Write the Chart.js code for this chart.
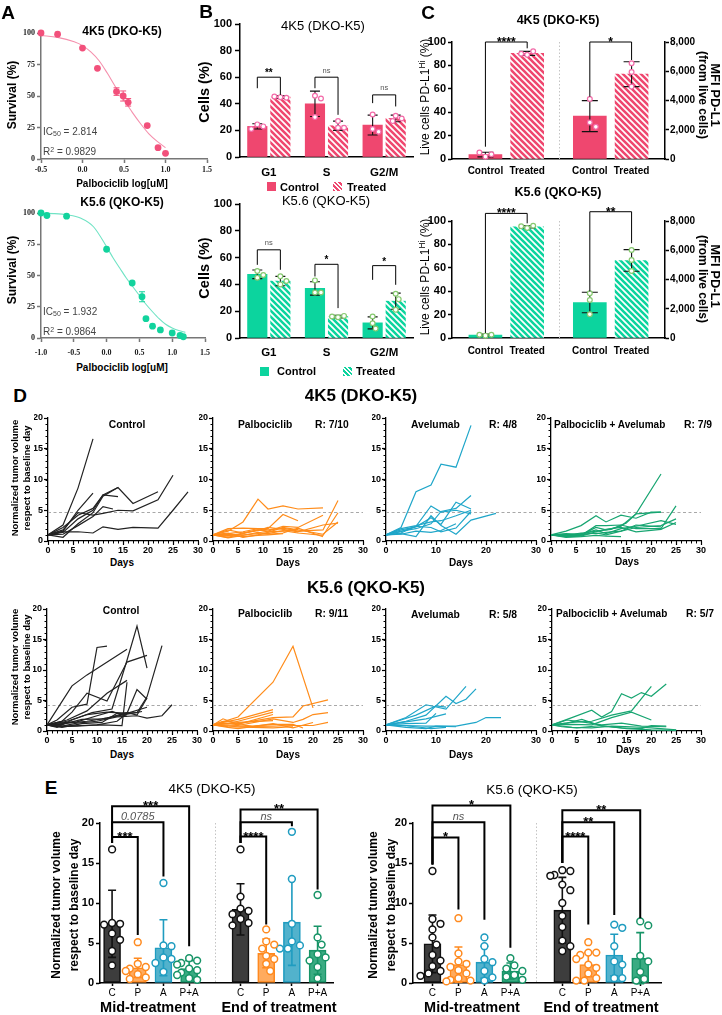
<!DOCTYPE html>
<html>
<head>
<meta charset="utf-8">
<title>Palbociclib / Avelumab figure</title>
<script src="https://cdn.jsdelivr.net/npm/chart.js@4.4.1/dist/chart.umd.min.js"></script>
<style>
  body { margin: 0; width: 722px; height: 1015px; position: relative; overflow: hidden; background: #fff; }
  canvas { position: absolute; }
  .t { position: absolute; white-space: nowrap; line-height: 1; color: #000; }
  .t sub { font-size: 70%; vertical-align: -0.2em; line-height: 0; }
  .t sup { font-size: 70%; vertical-align: 0.5em; line-height: 0; }
</style>
</head>
<body>
<script>
// ---------- A: dose response ----------
const a1LogDose = [-0.5, -0.3, 0.0, 0.18, 0.41, 0.49, 0.55, 0.78, 0.91, 1.0];
const a1Survival = [100, 99, 88, 72, 53.5, 50, 45, 26.5, 9, 4.5];
const a1Sd = [0, 0, 0, 0, 3, 4, 3, 0, 0, 0];
const a1FitDose = [-0.5, -0.3, -0.1, 0, 0.1, 0.2, 0.3, 0.4, 0.5, 0.6, 0.7, 0.8, 0.9, 1.0];
const a1FitSurvival = [98, 96.5, 93, 90, 85, 78, 68, 57, 47, 37, 28, 20, 14, 9];

const a2LogDose = [-1.0, -0.91, -0.61, 0.0, 0.39, 0.54, 0.60, 0.70, 0.82, 1.0, 1.12, 1.17];
const a2Survival = [100, 98, 97.5, 71, 44, 33, 15.5, 9.5, 6.5, 4, 2, 1];
const a2Sd = [0, 0, 0, 0, 0, 4, 0, 0, 0, 0, 0, 0];
const a2FitDose = [-1.0, -0.8, -0.6, -0.4, -0.2, 0, 0.1, 0.2, 0.3, 0.4, 0.5, 0.6, 0.7, 0.8, 0.9, 1.0, 1.1, 1.2];
const a2FitSurvival = [99.8, 99.5, 98.5, 96, 89, 73, 64, 56, 48, 41, 34, 27, 21, 15.5, 11, 8, 6, 4.5];

// ---------- B: cell cycle ----------
const phases = ['G1', 'S', 'G2/M'];
const b1CtrlMean = [23, 40, 24], b1CtrlSd = [2, 9.5, 7.5];
const b1TreatMean = [45, 23.5, 29], b1TreatSd = [1, 3.5, 2.5];
const b1CtrlPts = [[24.5, 23, 21], [46, 44, 30], [32, 21, 19]];
const b1TreatPts = [[45, 44.5, 45.5], [27, 22, 22], [31, 29, 27]];

const b2CtrlMean = [47.5, 37, 11.3], b2CtrlSd = [3.2, 5, 4.5];
const b2TreatMean = [42.5, 16, 27.5], b2TreatSd = [3.5, 1, 6];
const b2CtrlPts = [[50, 47, 45], [43, 34, 34], [16, 11, 7]];
const b2TreatPts = [[46, 42.5, 40], [15.5, 16.5, 16], [33, 29, 21]];

// ---------- C: PD-L1 ----------
const pdl1Groups = ['Control', 'Treated'];
const c1PctMean = [3.8, 90.3], c1PctSd = [2, 1.7];
const c1PctPts = [[2, 4, 5.5], [89, 92, 90]];
const c1MfiMean = [2930, 5800], c1MfiSd = [1060, 850];
const c1MfiPts = [[4100, 2500, 2200], [6550, 5950, 4950]];

const c2PctMean = [2.5, 95], c2PctSd = [0.8, 1];
const c2PctPts = [[2, 2.8, 2.8], [94, 96, 95.5]];
const c2MfiMean = [2425, 5300], c2MfiSd = [700, 740];
const c2MfiPts = [[3060, 2600, 1620], [6020, 5330, 4580]];

// ---------- D: tumour growth curves, [day, normalized volume] ----------
const dThreshold = [4.7, 4.3];
const d4k5Control = [
  [[0,1],[3,2.6],[6,8.6],[9,16.6]],
  [[0,1],[3,1.6],[6,5],[9,7.8]],
  [[0,1],[3,2.2],[6,4.2],[9,5.3],[11,7.5],[14,8.7],[17,6.1],[22,8.0]],
  [[0,1],[3,0.6],[6,2.8],[9,4.6],[11,7.3],[14,8.7]],
  [[0,1],[3,1.4],[6,3.6],[9,5.0],[11,7.5],[14,7.2]],
  [[0,1],[3,1.8],[6,4.6],[9,4.2],[11,4.5],[14,5.0],[17,4.9],[22,6.7],[25,10.7]],
  [[0,1],[3,1.5],[6,1.5],[9,1.3],[11,2.3],[14,1.9],[17,2.2],[22,2.1],[25,5.0],[28,8.0]],
  [[0,1],[3,1.1],[6,2.5],[9,4.0],[11,5.6],[13,5.2]]
];
const d4k5Palbo = [
  [[0,1],[3,1.6],[6,3.1],[9,6.8],[11,5.2],[14,5.7],[17,5.2],[22,5.4]],
  [[0,1],[3,1.2],[6,1.5],[9,2.0],[11,2.0],[14,4.3],[17,3.3]],
  [[0,1],[3,0.6],[6,1.2],[9,1.8],[11,1.6],[14,2.4],[17,2.2],[22,4.2]],
  [[0,1],[3,2.0],[6,2.1],[9,2.0],[11,1.8],[14,2.1],[17,1.6],[22,1.8],[25,6.6]],
  [[0,1],[3,0.5],[6,0.9],[9,1.4],[11,1.2],[14,1.7],[17,1.3],[22,0.9],[25,4.6]],
  [[0,1],[3,1.3],[6,0.6],[9,1.0],[11,1.4],[14,2.2],[17,1.8],[22,1.1],[25,3.1]],
  [[0,1],[3,0.8],[6,1.3],[9,1.7],[11,2.2],[14,1.9],[17,1.5],[22,2.6],[25,2.9]],
  [[0,1],[3,1.1],[6,1.0],[9,1.2],[11,1.1],[14,1.3],[17,2.1],[22,0.7]],
  [[0,1],[3,1.8],[6,1.3],[9,1.8],[11,1.5],[14,1.6],[17,1.9]],
  [[0,1],[3,0.9],[6,0.7],[9,0.9],[11,1.0],[14,1.2]]
];
const d4k5Avel = [
  [[0,1],[3,2.2],[6,8.0],[9,9.1],[11,12.5],[14,12.0],[17,18.8]],
  [[0,1],[3,1.5],[6,2.4],[9,5.7],[11,4.7],[14,5.0],[17,4.4]],
  [[0,1],[3,1.8],[6,2.3],[9,3.8],[11,2.7],[14,6.3],[17,5.2]],
  [[0,1],[3,1.2],[6,0.7],[9,4.1],[11,2.5],[14,1.1],[17,3.4],[22,4.5]],
  [[0,1],[3,1.6],[6,2.0],[9,2.8],[11,4.8],[14,5.3],[17,7.4]],
  [[0,1],[3,1.3],[6,2.4],[9,2.2],[11,1.5],[14,2.1],[17,4.8]],
  [[0,1],[3,2.0],[6,2.5],[9,3.1],[11,3.3],[14,4.1],[17,5.0]],
  [[0,1],[3,1.1],[6,1.6],[9,1.4],[11,1.7],[14,2.8]]
];
const d4k5Combo = [
  [[0,1],[3,1.6],[6,2.5],[9,4.1],[11,3.1],[14,4.2],[17,3.7],[20,4.7],[22,4.7]],
  [[0,1],[3,0.9],[6,1.0],[9,2.2],[11,1.8],[14,2.4],[17,4.4],[22,10.9]],
  [[0,1],[3,0.8],[6,0.9],[9,2.5],[11,2.5],[14,2.6],[17,2.0],[22,2.0],[25,5.7]],
  [[0,1],[3,1.2],[6,1.1],[9,1.8],[11,1.2],[14,2.0],[17,2.4],[22,3.3],[25,2.7]],
  [[0,1],[3,0.6],[6,0.7],[9,0.9],[11,0.8],[14,0.7]],
  [[0,1],[3,0.9],[6,1.3],[9,1.2],[11,1.4],[14,1.6],[17,2.2],[22,2.5],[25,3.6]],
  [[0,1],[3,0.7],[6,0.8],[9,1.5],[11,1.9],[14,2.2],[17,1.5],[22,1.9],[25,3.0]],
  [[0,1],[3,1.1],[6,1.0],[9,1.3],[11,1.0],[14,1.6],[17,2.6],[22,2.3]],
  [[0,1],[3,0.8],[6,1.2],[9,1.6],[12,1.9],[15,2.9],[17,4.4],[22,4.7]]
];
const dk56Control = [
  [[0,1],[5,7.4],[8,9.2],[16,13.4]],
  [[0,1],[2,1.8],[5,3.9],[8,4.4],[10,13.7],[12,13.9]],
  [[0,1],[3,1.6],[5,3.1],[8,6.2],[12,4.9],[16,11.3],[20,12.4]],
  [[0,1],[2,0.6],[5,1.8],[9,3.0],[13,3.6],[16,11.6],[18,17.2],[20,10.3]],
  [[0,1],[4,1.8],[8,3.3],[12,6.2],[16,8.3]],
  [[0,1],[3,0.8],[7,0.9],[11,1.0],[15,0.9],[16,8.0]],
  [[0,1],[2,0.7],[6,0.8],[10,1.0],[14,1.6],[16,2.9],[18,6.8],[20,5.2]],
  [[0,1],[3,0.8],[6,1.3],[10,1.6],[14,2.3],[18,2.5],[20,2.1],[23,2.5],[25,4.3]],
  [[0,1],[4,1.3],[8,1.6],[12,2.1],[16,3.0],[18,2.6],[20,5.4]],
  [[0,1],[3,0.6],[7,1.2],[11,1.4],[14,2.9],[18,3.0],[20,5.6],[23,14.0]],
  [[0,1],[4,1.6],[8,2.7],[12,3.1],[16,2.9],[20,3.9]],
  [[0,1],[3,1.1],[7,1.9],[11,2.0],[15,2.6],[19,3.2]],
  [[0,1],[2,1.3],[6,1.5],[10,2.5],[13,3.2],[16,2.4]]
];
const dk56Palbo = [
  [[0,1],[5,2.3],[12,8.0],[16,13.9],[20,3.8]],
  [[0,1],[2,1.4],[5,1.9],[12,3.5]],
  [[0,1],[3,1.2],[5,1.6],[12,3.1]],
  [[0,1],[2,2.0],[5,1.1],[12,2.7]],
  [[0,1],[2,1.3],[5,1.2],[12,2.2],[16,2.3],[18,4.1],[23,5.1]],
  [[0,1],[5,0.9],[12,2.0],[16,1.4],[18,1.9],[20,2.7],[23,3.0]],
  [[0,1],[3,0.6],[5,0.4],[12,1.2],[16,0.5],[20,1.4]],
  [[0,1],[5,0.7],[12,0.8],[16,0.9],[20,0.9],[23,1.4]],
  [[0,1],[3,1.2],[8,0.8],[12,1.1],[16,1.1],[18,0.5]],
  [[0,1],[3,0.7],[8,0.6],[12,0.5],[16,0.7]],
  [[0,1],[2,1.6],[5,1.4],[12,1.7]]
];
const dk56Avel = [
  [[0,1],[4,2.2],[8,4.3],[12,3.6],[16,7.3]],
  [[0,1],[4,1.6],[8,2.6],[12,5.7],[14,4.5],[16,5.2],[18,6.9]],
  [[0,1],[3,1.8],[6,2.6],[10,4.1],[12,3.9]],
  [[0,1],[4,1.5],[8,2.0],[12,2.8]],
  [[0,1],[4,1.2],[8,1.3],[10,2.9]],
  [[0,1],[4,0.9],[8,0.8],[12,0.8],[14,0.8],[18,1.4],[20,2.2],[23,2.2]],
  [[0,1],[4,0.6],[8,0.4],[10,0.8],[14,0.7]],
  [[0,1],[3,0.9],[6,0.7],[9,0.4],[12,0.6]]
];
const dk56Combo = [
  [[0,1],[4,2.2],[8,3.4],[10,2.3],[12,3.2],[14,6.1],[16,5.4],[18,6.3],[20,5.7],[23,7.7]],
  [[0,1],[4,1.4],[8,1.6],[12,2.6],[16,3.3],[20,7.3]],
  [[0,1],[4,1.1],[8,1.0],[12,2.2],[16,3.1],[20,1.8]],
  [[0,1],[3,1.8],[6,1.5],[10,1.0],[14,1.3],[18,0.8],[23,0.7]],
  [[0,1],[4,0.6],[8,0.5],[12,0.8],[16,0.7],[20,0.5],[25,0.2]],
  [[0,1],[3,1.3],[6,1.9],[10,0.8],[14,0.5],[18,0.4],[20,0.9],[23,0.8]],
  [[0,1],[2,0.7],[5,0.5],[10,0.9],[15,0.4],[20,0.2],[25,0.1]]
];

// ---------- E: normalized volume at mid / end of treatment ----------
const eGroups = ['C', 'P', 'A', 'P+A'];
const e1MidMean = [7.4, 1.9, 4.4, 1.8], e1MidSd = [4.2, 1.2, 3.5, 1.0];
const e1EndMean = [9.2, 3.7, 7.6, 4.1], e1EndSd = [3.2, 1.8, 5.4, 3.0];
const e1MidPts = [
  [16.7, 7.5, 7.4, 7.3, 6.2, 5.4, 4.0, 2.2],
  [5.1, 2.4, 2.0, 1.8, 1.5, 1.1, 0.7, 0.5],
  [12.5, 4.7, 4.6, 3.2, 3.0, 2.5, 1.4],
  [3.1, 2.8, 2.5, 2.3, 1.8, 1.6, 1.3, 1.0, 0.6, 0.4]
];
const e1EndPts = [
  [16.7, 10.8, 9.3, 9.0, 8.6, 8.0, 7.5, 7.2],
  [6.7, 5.2, 4.8, 4.3, 3.4, 3.0, 2.4, 1.5],
  [18.9, 13.0, 7.4, 5.2, 4.7, 4.3, 4.3],
  [11.0, 5.7, 4.8, 3.6, 3.2, 2.8, 2.0, 0.6]
];
const e2MidMean = [4.9, 2.3, 2.6, 1.5], e2MidSd = [3.6, 2.2, 2.0, 1.0];
const e2EndMean = [9.1, 2.3, 3.5, 3.1], e2EndSd = [4.1, 1.5, 2.6, 3.2];
const e2MidPts = [
  [14.0, 8.0, 7.4, 6.7, 5.7, 4.8, 3.5, 2.8, 2.1, 1.5, 1.2, 0.9],
  [8.1, 3.7, 2.7, 2.4, 2.0, 1.6, 1.2, 0.6, 0.4, 0.3, 0.2],
  [5.7, 4.6, 3.0, 2.6, 1.5, 0.7, 0.3],
  [3.1, 2.2, 1.8, 1.5, 1.0, 0.8, 0.4]
];
const e2EndPts = [
  [14.1, 14.0, 13.5, 13.4, 12.3, 11.6, 10.0, 8.4, 7.0, 5.3, 4.6, 4.0],
  [5.1, 3.8, 3.8, 3.5, 3.0, 2.3, 1.9, 1.2, 0.6, 0.3, 0.3],
  [7.3, 6.9, 4.6, 2.7, 2.3, 0.6, 0.6],
  [7.7, 7.2, 3.4, 2.7, 1.4, 0.5, 0.3]
];

// ---------- styling ----------
const SANS = '"Liberation Sans", Arial, sans-serif';
const SERIF = '"Liberation Serif", "DejaVu Serif", serif';
const PINK = '#ef476f', PINK_PT = '#f36aa8';
const MINT = '#0cd49e', MINT_PT = '#86c96f';
const BLACK = '#222222', ORANGE = '#ff8c1a', BLUE = '#1fa6c9', GREEN = '#17a571';
const eFill = ['#3d3d3d', '#ffab5e', '#52b2cc', '#3aab82'];
const eLine = ['#111111', '#ff8a1f', '#1f9cc0', '#179467'];

Chart.defaults.font.family = SANS;
Chart.defaults.color = '#000';

const deco = {
  id: 'deco',
  beforeDatasetsDraw(chart, args, o) {
    const ctx = chart.ctx, a = chart.chartArea;
    ctx.save();
    ctx.lineWidth = 1;
    (o.vlines || []).forEach(v => {
      const x = Math.round(chart.scales.x.getPixelForValue(v)) + 0.5;
      ctx.strokeStyle = '#c4c4c4';
      ctx.setLineDash([1.5, 2]);
      ctx.beginPath(); ctx.moveTo(x, a.top); ctx.lineTo(x, a.bottom); ctx.stroke();
    });
    if (o.hline !== undefined) {
      const y = Math.round(chart.scales.y.getPixelForValue(o.hline)) + 0.5;
      ctx.strokeStyle = '#a8a8a8';
      ctx.setLineDash([3, 2.5]);
      ctx.beginPath(); ctx.moveTo(a.left, y); ctx.lineTo(a.right, y); ctx.stroke();
    }
    ctx.restore();
  },
  afterDatasetDraw(chart, args) {
    const ds = chart.data.datasets[args.index];
    if (!ds.sd) return;
    const meta = args.meta, ctx = chart.ctx;
    const ys = chart.scales[meta.yAxisID];
    ctx.save();
    ctx.strokeStyle = ds.errColor || '#000';
    ctx.lineWidth = ds.errWidth || 1;
    ds.data.forEach((d, i) => {
      const s = ds.sd[i];
      if (!s) return;
      const x = meta.data[i].x, c = ds.cap || 4;
      const t = ys.getPixelForValue(d.y + s), b = ys.getPixelForValue(d.y - s);
      ctx.beginPath();
      ctx.moveTo(x, t); ctx.lineTo(x, b);
      ctx.moveTo(x - c, t); ctx.lineTo(x + c, t);
      ctx.moveTo(x - c, b); ctx.lineTo(x + c, b);
      ctx.stroke();
    });
    ctx.restore();
  },
  afterDraw(chart, args, o) {
    const ctx = chart.ctx, a = chart.chartArea;
    ctx.save();
    if (o.minor) {
      const xs = chart.scales.x, ys = chart.scales.y;
      ctx.strokeStyle = '#000'; ctx.lineWidth = 1;
      ctx.beginPath();
      for (let v = xs.min; v <= xs.max; v++) {
        const p = Math.round(xs.getPixelForValue(v)) + 0.5;
        ctx.moveTo(p, a.bottom); ctx.lineTo(p, a.bottom + 2.5);
      }
      for (let v = ys.min; v <= ys.max; v++) {
        const p = Math.round(ys.getPixelForValue(v)) + 0.5;
        ctx.moveTo(a.left, p); ctx.lineTo(a.left - 2.5, p);
      }
      ctx.stroke();
    }
    (o.brackets || []).forEach(b => {
      const xs = chart.scales.x, ys = chart.scales[b.axis || 'y'];
      const x1 = xs.getPixelForValue(b.x1), x2 = xs.getPixelForValue(b.x2), y = ys.getPixelForValue(b.y);
      ctx.strokeStyle = '#000';
      ctx.lineWidth = o.lw || 1;
      ctx.beginPath();
      ctx.moveTo(x1, ys.getPixelForValue(b.l1)); ctx.lineTo(x1, y);
      ctx.lineTo(x2, y); ctx.lineTo(x2, ys.getPixelForValue(b.l2));
      ctx.stroke();
      const star = b.text.indexOf('*') >= 0;
      ctx.font = star ? o.starFont : o.textFont;
      ctx.fillStyle = star ? '#000' : '#555';
      ctx.textAlign = 'center';
      ctx.textBaseline = 'alphabetic';
      ctx.fillText(b.text, (x1 + x2) / 2, y + (star ? o.so : o.to));
    });
    ctx.restore();
  }
};
Chart.register(deco);

function canvasAt(x0, x1, y0, y1, m) {
  const c = document.createElement('canvas');
  const w = x1 - x0 + m[0] + m[1], h = y1 - y0 + m[2] + m[3];
  c.width = w; c.height = h;
  c.style.left = (x0 - m[0]) + 'px';
  c.style.top = (y0 - m[2]) + 'px';
  c.style.width = w + 'px';
  c.style.height = h + 'px';
  document.body.appendChild(c);
  return c;
}

function scale(o) {
  const s = {
    type: 'linear', min: o.min, max: o.max, offset: false,
    grid: { offset: false, drawOnChartArea: false, drawTicks: !!o.tick, tickLength: o.tick || 0, color: o.color || '#000', tickWidth: o.lw || 1.2 },
    border: { color: o.color || '#000', width: o.lw || 1.3 },
    ticks: {
      autoSkip: false, maxRotation: 0, padding: o.pad || 0, color: o.tc || '#000',
      font: { family: o.family || SANS, size: o.size || 10, weight: o.weight || 'bold' }
    },
    afterFit: o.fit
  };
  if (o.step) s.ticks.stepSize = o.step;
  if (o.pos) s.position = o.pos;
  if (o.at) s.afterBuildTicks = sc => { sc.ticks = o.at.map(v => ({ value: v })); };
  if (o.labels) s.ticks.callback = (v, i) => o.labels[i];
  else if (o.fmt) s.ticks.callback = o.fmt;
  return s;
}

function opts(m, scales, plug) {
  return {
    responsive: false, animation: false, events: [],
    layout: { padding: { left: 0, top: m[2], right: scales.y2 ? 0 : m[1], bottom: 0 } },
    scales,
    plugins: { legend: { display: false }, tooltip: { enabled: false }, deco: plug || {} }
  };
}

function hatch(color) {
  const c = document.createElement('canvas');
  c.width = c.height = 6;
  const g = c.getContext('2d');
  g.fillStyle = '#fff'; g.fillRect(0, 0, 6, 6);
  g.strokeStyle = color; g.lineWidth = 2.6;
  g.beginPath();
  [-6, 0, 6].forEach(k => { g.moveTo(-1, -1 + k); g.lineTo(7, 7 + k); });
  g.stroke();
  return g.createPattern(c, 'repeat');
}

// spreads equal-ish values sideways so dots do not overlap (px offsets)
function swarm(vals, pxPerY, d) {
  const placed = [];
  return vals.map(v => {
    const py = v * pxPerY;
    let off = 0;
    for (const s of [0, 1, -1, 2, -2, 3, -3]) {
      off = s * d * 0.5;
      if (placed.every(p => Math.hypot(p[0] - off, p[1] - py) >= d)) break;
    }
    placed.push([off, py]);
    return off;
  });
}

function T(html, x, y, font, anchor, rot, color) {
  const d = document.createElement('div');
  d.className = 't';
  d.innerHTML = html;
  d.style.font = font;
  d.style.lineHeight = '1';
  d.style.color = color || '#000';
  d.style.left = x + 'px';
  d.style.top = y + 'px';
  const tx = anchor === 'l' ? '0' : anchor === 'r' ? '-100%' : '-50%';
  d.style.transform = 'translate(' + tx + ',-50%)' + (rot ? ' rotate(' + rot + 'deg)' : '');
  document.body.appendChild(d);
}

function swatch(x, y, bg) {
  const d = document.createElement('div');
  d.style.cssText = 'position:absolute;left:' + x + 'px;top:' + y + 'px;width:9px;height:9px;background:' + bg;
  document.body.appendChild(d);
}

// ---------- A ----------
function aChart(x1, y0, y1, xmin, dose, surv, sd, fitX, fitY, col, fitCol, pad) {
  const m = [41, 12, 14, 22];
  const c = canvasAt(41, x1, y0, y1, m);
  new Chart(c, {
    type: 'scatter',
    data: { datasets: [
      { data: fitX.map((x, i) => ({ x, y: fitY[i] })), showLine: true, borderColor: fitCol, borderWidth: 1.1,
        pointRadius: 0, tension: 0.4, cubicInterpolationMode: 'monotone', order: 2, clip: false },
      { data: dose.map((x, i) => ({ x, y: surv[i] })), pointRadius: 3.4, pointBorderWidth: 0,
        pointBackgroundColor: col, sd, errColor: col, errWidth: 1, cap: 3, order: 1, clip: false }
    ] },
    options: opts(m, {
      x: scale({ min: xmin, max: 1.5, step: 0.5, tick: 4, pad, size: 8, family: SERIF, color: '#777', lw: 1.5, tc: '#222',
                 fmt: v => v.toFixed(1), fit: s => { s.height = m[3]; } }),
      y: scale({ min: 0, max: 100, step: 25, tick: 4, pad: 2, size: 8, family: SERIF, color: '#777', lw: 1.5, tc: '#222',
                 fit: s => { s.width = m[0]; } })
    })
  });
}
aChart(207, 33, 159, -0.5, a1LogDose, a1Survival, a1Sd, a1FitDose, a1FitSurvival, '#f2507b', '#f590ad', 2);
aChart(205, 213, 338, -1.0, a2LogDose, a2Survival, a2Sd, a2FitDose, a2FitSurvival, '#12d39d', '#6fe3c4', 6);

// ---------- B ----------
function bChart(y0, y1, ctrl, ctrlSd, treat, treatSd, ctrlPts, treatPts, col, ptCol, brackets, xpad) {
  const m = [40, 6, 12, 24];
  const c = canvasAt(240, 413, y0, y1, m);
  const pxY = (y1 - y0) / 100, pxX = 173 / 3;
  const pts = (arr, shift) => arr.flatMap((vals, i) => {
    const o = swarm(vals, pxY, 6);
    return vals.map((v, k) => ({ x: i + shift + o[k] / pxX, y: v }));
  });
  const bar = (vals, sd, bg, shift) => ({
    type: 'bar', data: vals.map((v, i) => ({ x: i + shift, y: v })), sd, backgroundColor: bg, borderWidth: 0,
    grouped: false, barThickness: 19.5, maxBarThickness: 19.5, order: 3, errColor: '#111', errWidth: 1.1, cap: 5, clip: false
  });
  const dot = data => ({ type: 'scatter', data, pointRadius: 2.4, pointBorderWidth: 1.2,
    pointBackgroundColor: '#fff', pointBorderColor: ptCol, order: 1, clip: false });
  new Chart(c, {
    type: 'bar',
    data: { datasets: [bar(ctrl, ctrlSd, col, 0.3), bar(treat, treatSd, hatch(col), 0.7), dot(pts(ctrlPts, 0.3)), dot(pts(treatPts, 0.7))] },
    options: opts(m, {
      x: scale({ min: 0, max: 3, at: [0.5, 1.5, 2.5], labels: phases, tick: 0, pad: xpad, size: 11.5, lw: 1.5,
                 fit: s => { s.height = m[3]; } }),
      y: scale({ min: 0, max: 100, step: 20, tick: 5, pad: 3, size: 11, lw: 1.5, fit: s => { s.width = m[0]; } })
    }, { brackets, lw: 1, starFont: 'bold 10px ' + SANS, textFont: '7.5px ' + SANS, so: -1, to: -4.5 })
  });
}
bChart(24, 157, b1CtrlMean, b1CtrlSd, b1TreatMean, b1TreatSd, b1CtrlPts, b1TreatPts, PINK, PINK_PT, [
  { x1: 0.3, x2: 0.7, y: 60, l1: 51.7, l2: 46.7, text: '**' },
  { x1: 1.3, x2: 1.7, y: 60, l1: 51.7, l2: 31.7, text: 'ns' },
  { x1: 2.3, x2: 2.7, y: 46.7, l1: 40.5, l2: 38, text: 'ns' }
], 9);
bChart(204, 338, b2CtrlMean, b2CtrlSd, b2TreatMean, b2TreatSd, b2CtrlPts, b2TreatPts, MINT, MINT_PT, [
  { x1: 0.3, x2: 0.7, y: 65.8, l1: 54.6, l2: 50.9, text: 'ns' },
  { x1: 1.3, x2: 1.7, y: 55, l1: 45.9, l2: 22.3, text: '*' },
  { x1: 2.3, x2: 2.7, y: 54, l1: 43.4, l2: 39.7, text: '*' }
], 8);

// ---------- C ----------
function cChart(y0, y1, top, xpad, pct, pctSd, pctPts, mfi, mfiSd, mfiPts, col, ptCol, brackets) {
  const m = [37, 57, top, 20];
  const c = canvasAt(452, 665, y0, y1, m);
  const pxX = 213 / 5.1, pxL = (y1 - y0) / 100, pxR = (y1 - y0) / 8000;
  const fill = [col, hatch(col)];
  const pts = (arr, xs, pxY) => arr.flatMap((vals, i) => {
    const o = swarm(vals, pxY, 6);
    return vals.map((v, k) => ({ x: xs[i] + o[k] / pxX, y: v }));
  });
  const bar = (vals, sd, xs, axis) => ({
    type: 'bar', data: vals.map((v, i) => ({ x: xs[i], y: v })), sd, yAxisID: axis, backgroundColor: fill, borderWidth: 0,
    grouped: false, barThickness: 33, maxBarThickness: 33, order: 3, errColor: '#111', errWidth: 1.1, cap: 8, clip: false
  });
  const dot = (data, axis) => ({ type: 'scatter', data, yAxisID: axis, pointRadius: 2.4, pointBorderWidth: 1.2,
    pointBackgroundColor: '#fff', pointBorderColor: ptCol, order: 1, clip: false });
  new Chart(c, {
    type: 'bar',
    data: { datasets: [
      bar(pct, pctSd, [1, 2], 'y'), bar(mfi, mfiSd, [3.5, 4.5], 'y2'),
      dot(pts(pctPts, [1, 2], pxL), 'y'), dot(pts(mfiPts, [3.5, 4.5], pxR), 'y2')
    ] },
    options: opts(m, {
      x: scale({ min: 0.2, max: 5.3, at: [1, 2, 3.5, 4.5], labels: pdl1Groups.concat(pdl1Groups), tick: 0, pad: xpad, size: 10,
                 lw: 1.5, fit: s => { s.height = m[3]; } }),
      y: scale({ min: 0, max: 100, step: 20, tick: 4, pad: 2, size: 11, lw: 1.5, fit: s => { s.width = m[0]; } }),
      y2: scale({ min: 0, max: 8000, step: 2000, pos: 'right', tick: 4, pad: 1, size: 10, lw: 1.5, fit: s => { s.width = m[1]; } })
    }, { vlines: [2.75], brackets, lw: 1, starFont: 'bold 12px ' + SANS, textFont: '8px ' + SANS, so: 4, to: -3 })
  });
}
cChart(42, 159, 14, 6, c1PctMean, c1PctSd, c1PctPts, c1MfiMean, c1MfiSd, c1MfiPts, PINK, PINK_PT, [
  { x1: 1, x2: 2, y: 100, l1: 10.5, l2: 94.6, text: '****' },
  { x1: 3.5, x2: 4.5, y: 8000, l1: 4260, l2: 6770, text: '*', axis: 'y2' }
]);
cChart(221, 338, 22, 7, c2PctMean, c2PctSd, c2PctPts, c2MfiMean, c2MfiSd, c2MfiPts, MINT, MINT_PT, [
  { x1: 1, x2: 2, y: 106.5, l1: 4.3, l2: 98, text: '****' },
  { x1: 3.5, x2: 4.5, y: 8634, l1: 3178, l2: 6479, text: '**', axis: 'y2' }
]);

// ---------- D ----------
function dChart(x0, x1, y0, y1, series, col, step, thr) {
  const m = [14, 8, 8, 14];
  const c = canvasAt(x0, x1, y0, y1, m);
  new Chart(c, {
    type: 'scatter',
    data: { datasets: series.map(s => ({
      data: s.map(p => ({ x: p[0], y: p[1] })), showLine: true, borderColor: col, borderWidth: 1.2,
      pointRadius: 0, clip: false
    })) },
    options: opts(m, {
      x: scale({ min: 0, max: 30, step, tick: 4, pad: 0, size: 9, fit: s => { s.height = m[3]; } }),
      y: scale({ min: 0, max: 20, step: 5, tick: 4, pad: 1, size: 9, fit: s => { s.width = m[0]; } })
    }, { hline: thr, minor: { len: 2.5 } })
  });
}
dChart(48, 198, 418, 541, d4k5Control, BLACK, 5, dThreshold[0]);
dChart(213, 363, 418, 541, d4k5Palbo, ORANGE, 5, dThreshold[0]);
dChart(386, 536, 418, 541, d4k5Avel, BLUE, 10, dThreshold[0]);
dChart(551, 701, 418, 541, d4k5Combo, GREEN, 5, dThreshold[0]);
dChart(47, 197, 609, 731, dk56Control, BLACK, 5, dThreshold[1]);
dChart(213, 363, 609, 731, dk56Palbo, ORANGE, 5, dThreshold[1]);
dChart(386, 536, 609, 731, dk56Avel, BLUE, 10, dThreshold[1]);
dChart(552, 701, 609, 731, dk56Combo, GREEN, 5, dThreshold[1]);

// ---------- E ----------
function eChart(x0, x1, xmin, xmax, mid, midSd, end, endSd, midPts, endPts, brackets) {
  const m = [40, 6, 30, 16];
  const c = canvasAt(x0, x1, 823, 983, m);
  const pxX = (x1 - x0) / (xmax - xmin), pxY = 160 / 20;
  const datasets = [];
  eGroups.forEach((g, i) => {
    datasets.push({
      type: 'bar', data: [{ x: i, y: mid[i] }, { x: i + 5, y: end[i] }], sd: [midSd[i], endSd[i]],
      backgroundColor: eFill[i], borderColor: eLine[i], borderWidth: 1.6, borderSkipped: false,
      grouped: false, barThickness: 17, maxBarThickness: 17, order: 3, clip: false,
      errColor: eLine[i], errWidth: 1.6, cap: 4
    });
    const pts = [];
    [[midPts[i], i], [endPts[i], i + 5]].forEach(([vals, cx]) => {
      const off = swarm(vals, pxY, 8);
      vals.forEach((v, k) => pts.push({ x: cx + off[k] / pxX, y: v }));
    });
    datasets.push({ type: 'scatter', data: pts, pointRadius: 3.4, pointBorderWidth: 1.5,
      pointBackgroundColor: '#fff', pointBorderColor: eLine[i], order: 1, clip: false });
  });
  new Chart(c, {
    type: 'bar',
    data: { datasets },
    options: opts(m, {
      x: scale({ min: xmin, max: xmax, at: [0, 1, 2, 3, 5, 6, 7, 8], labels: eGroups.concat(eGroups), tick: 3, pad: 1,
                 size: 10, weight: 'normal', lw: 1.5, fit: s => { s.height = m[3]; } }),
      y: scale({ min: 0, max: 20, step: 5, tick: 4, pad: 2, size: 11, lw: 1.5, fit: s => { s.width = m[0]; } })
    }, { vlines: [4], brackets, lw: 2, starFont: 'bold 13px ' + SANS, textFont: 'italic 11px ' + SANS, so: 4, to: -2 })
  });
}
eChart(100, 333, -0.47, 8.6, e1MidMean, e1MidSd, e1EndMean, e1EndSd, e1MidPts, e1EndPts, [
  { x1: 0, x2: 1, y: 18.25, l1: 17.5, l2: 6.0, text: '***' },
  { x1: 0, x2: 2, y: 20.1, l1: 17.5, l2: 13.3, text: '0.0785' },
  { x1: 0, x2: 3, y: 22.1, l1: 17.5, l2: 4.6, text: '***' },
  { x1: 5, x2: 6, y: 18.3, l1: 17.5, l2: 7.3, text: '****' },
  { x1: 5, x2: 7, y: 20.1, l1: 17.5, l2: 19.6, text: 'ns' },
  { x1: 5, x2: 8, y: 21.7, l1: 17.5, l2: 11.7, text: '**' }
]);
eChart(413, 661, -0.75, 8.8, e2MidMean, e2MidSd, e2EndMean, e2EndSd, e2MidPts, e2EndPts, [
  { x1: 0, x2: 1, y: 18.2, l1: 14.8, l2: 9.2, text: '*' },
  { x1: 0, x2: 2, y: 20.1, l1: 14.8, l2: 7.9, text: 'ns' },
  { x1: 0, x2: 3, y: 22.2, l1: 14.8, l2: 4.4, text: '*' },
  { x1: 5, x2: 6, y: 18.3, l1: 15, l2: 7.3, text: '****' },
  { x1: 5, x2: 7, y: 20.1, l1: 15, l2: 8.5, text: '**' },
  { x1: 5, x2: 8, y: 21.6, l1: 15, l2: 8.1, text: '**' }
]);

// ---------- text ----------
const F = (w, s) => w + ' ' + s + 'px ' + SANS;
T('A', 8, 12, F('bold', 19)); T('B', 206, 11, F('bold', 19)); T('C', 428, 12, F('bold', 19));
T('D', 20, 395, F('bold', 19)); T('E', 51, 787, F('bold', 19));

T('4K5 (DKO-K5)', 122, 31, F('bold', 12));
T('K5.6 (QKO-K5)', 122, 202, F('bold', 12));
T('Survival (%)', 12, 95, F('bold', 12), 'c', -90);
T('Survival (%)', 12, 270, F('bold', 12), 'c', -90);
T('Palbociclib log[uM]', 122, 184, F('bold', 10));
T('Palbociclib log[uM]', 122, 368, F('bold', 10));
T('IC<sub>50</sub> = 2.814', 43, 132, F('normal', 10), 'l', 0, '#444');
T('R<sup>2</sup> = 0.9829', 43, 152, F('normal', 10), 'l', 0, '#444');
T('IC<sub>50</sub> = 1.932', 43, 312, F('normal', 10), 'l', 0, '#444');
T('R<sup>2</sup> = 0.9864', 43, 332, F('normal', 10), 'l', 0, '#444');

T('4K5 (DKO-K5)', 323, 25, F('normal', 13));
T('K5.6 (QKO-K5)', 326, 200, F('normal', 13));
T('Cells (%)', 204, 92, F('bold', 14.5), 'c', -90);
T('Cells (%)', 204, 268, F('bold', 14.5), 'c', -90);
const hatchCss = c => 'repeating-linear-gradient(45deg,' + c + ' 0 2px,#fff 2px 3.2px)';
swatch(267, 182, PINK); T('Control', 280, 186.5, F('bold', 11), 'l');
swatch(333, 182, hatchCss(PINK)); T('Treated', 347, 186.5, F('bold', 11), 'l');
swatch(260, 367, MINT); T('Control', 277, 371, F('bold', 11), 'l');
swatch(343, 367, hatchCss(MINT)); T('Treated', 356, 371, F('bold', 11), 'l');

T('4K5 (DKO-K5)', 558, 20, F('bold', 12.5));
T('K5.6 (QKO-K5)', 558, 192, F('bold', 12.5));
T('Live cells PD-L1<sup>Hi</sup> (%)', 425, 97, F('normal', 12), 'c', -90);
T('Live cells PD-L1<sup>Hi</sup> (%)', 425, 277, F('normal', 12), 'c', -90);
T('MFI PD-L1', 715, 95, F('bold', 13), 'c', 90);
T('(from live cells)', 703, 95, F('bold', 12), 'c', 90);
T('MFI PD-L1', 715, 276, F('bold', 13), 'c', 90);
T('(from live cells)', 703, 279, F('bold', 12), 'c', 90);

T('4K5 (DKO-K5)', 361, 395, F('bold', 17));
T('K5.6 (QKO-K5)', 366, 587, F('bold', 17));
[478, 667].forEach(y => {
  T('Normalized tumor volume', 15, y, F('bold', 9.5), 'c', -90);
  T('respect to baseline day', 27, y, F('bold', 9.5), 'c', -90);
});
const DT = F('bold', 10.3);
T('Control', 127, 425, DT);
T('Palbociclib', 238, 425, DT, 'l'); T('R: 7/10', 315, 425, DT, 'l');
T('Avelumab', 411, 425, DT, 'l'); T('R: 4/8', 489, 425, DT, 'l');
T('Palbociclib + Avelumab', 554, 425, F('bold', 10), 'l'); T('R: 7/9', 684, 425, DT, 'l');
T('Control', 121, 611, DT);
T('Palbociclib', 238, 614, DT, 'l'); T('R: 9/11', 315, 614, DT, 'l');
T('Avelumab', 411, 615, DT, 'l'); T('R: 5/8', 489, 615, DT, 'l');
T('Palbociclib + Avelumab', 556, 614, F('bold', 10), 'l'); T('R: 5/7', 686, 614, DT, 'l');
[[122, 563], [288, 563], [461, 563], [627, 562], [122, 755], [288, 755], [461, 755], [628, 750]].forEach(p => T('Days', p[0], p[1], F('bold', 10)));

T('4K5 (DKO-K5)', 212, 789, F('normal', 13.5));
T('K5.6 (QKO-K5)', 532, 790, F('normal', 13.5));
[[56, 74], [373, 391]].forEach(p => {
  T('Normalized tumor volume', p[0], 905, F('bold', 12), 'c', -90);
  T('respect to baseline day', p[1], 905, F('bold', 12), 'c', -90);
});
T('Mid-treatment', 148, 1007, F('bold', 14.5));
T('End of treatment', 279, 1007, F('bold', 14.5));
T('Mid-treatment', 472, 1007, F('bold', 14.5));
T('End of treatment', 601, 1007, F('bold', 14.5));
</script>
</body>
</html>
